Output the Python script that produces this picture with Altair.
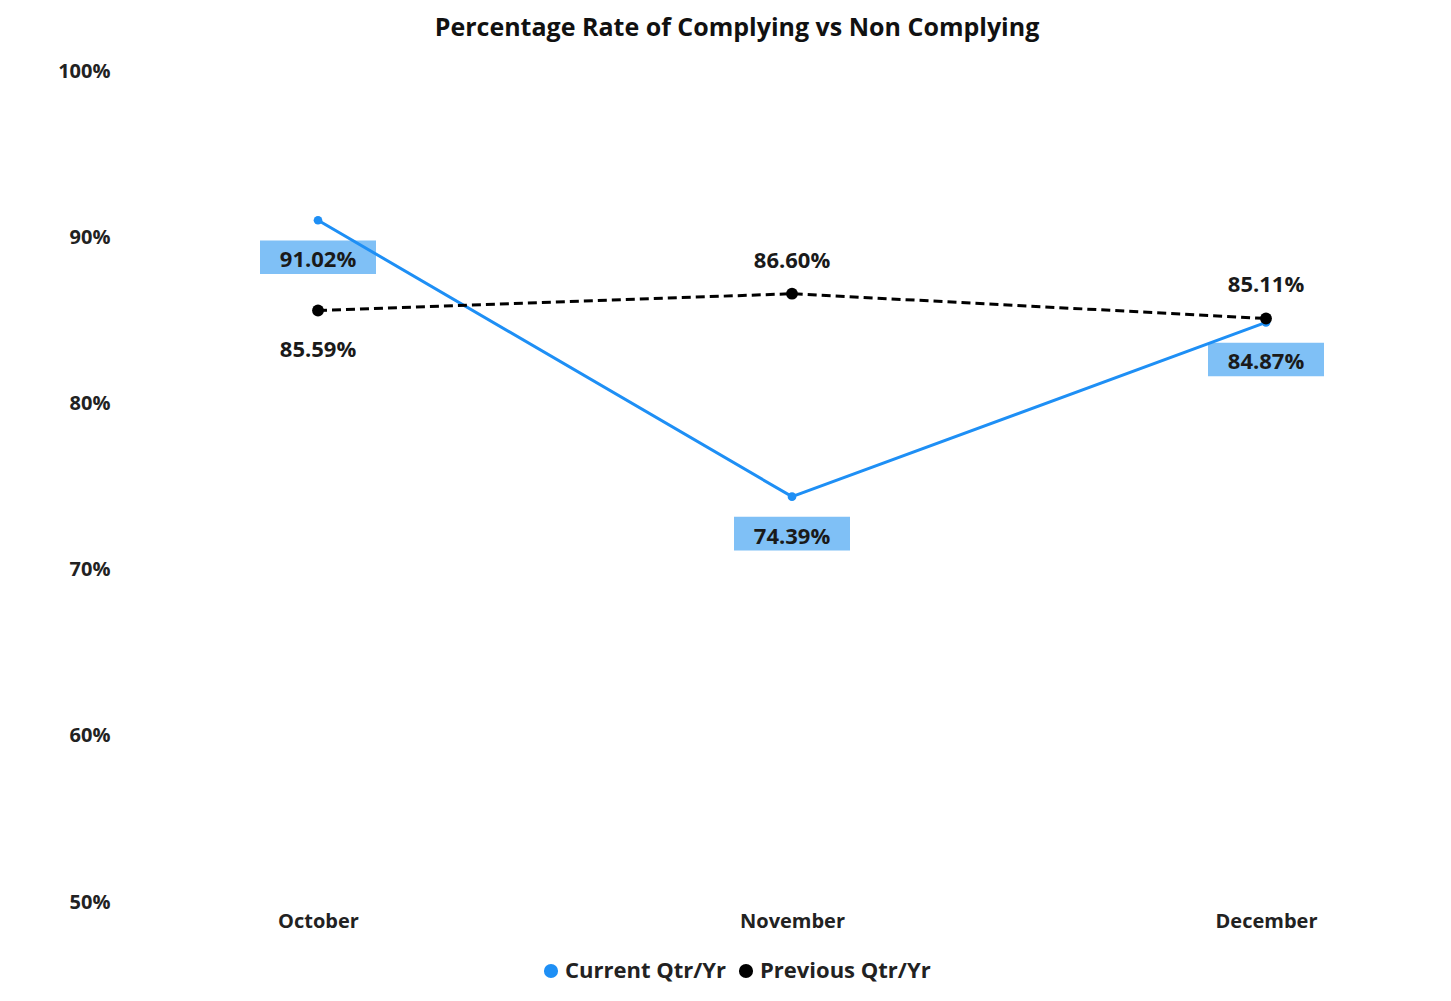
import altair as alt
import pandas as pd

months = ["October", "November", "December"]
current = [91.02, 74.39, 84.87]
previous = [85.59, 86.60, 85.11]
prev_label_pos = ["below", "above", "above"]
series_names = ["Current Qtr/Yr", "Previous Qtr/Yr"]
y_ticks = [50, 60, 70, 80, 90, 100]

FONT = "Open Sans"
BLUE = "#1E8FF5"
BOX = "#7FC0F6"

rows = []
for m, c in zip(months, current):
    rows.append({"month": m, "series": series_names[0], "value": c, "pos": "below"})
for m, p, pos in zip(months, previous, prev_label_pos):
    rows.append({"month": m, "series": series_names[1], "value": p, "pos": pos})
df = pd.DataFrame(rows)

x_enc = alt.X("month:N", sort=months,
              scale=alt.Scale(type="point", padding=0, range=[198, 1146]),
              axis=alt.Axis(title=None, labelAngle=0, domain=False, ticks=False,
                            labelFont=FONT, labelFontWeight="bold", labelFontSize=20,
                            labelColor="#222", labelPadding=9))
y_enc = alt.Y("value:Q", scale=alt.Scale(domain=[50, 100], nice=False, zero=False),
              axis=alt.Axis(title=None, values=y_ticks, grid=False, domain=False, ticks=False,
                            labelExpr="datum.value + '%'", labelFont=FONT,
                            labelFontWeight="bold", labelFontSize=20, labelColor="#222",
                            labelPadding=10))

base = alt.Chart(df).encode(x=x_enc, y=y_enc)
cur = base.transform_filter(alt.datum.series == series_names[0])
prev = base.transform_filter(alt.datum.series == series_names[1])

cur_line = cur.mark_line(color=BLUE, strokeWidth=3)
prev_line = prev.mark_line(color="black", strokeWidth=3, strokeDash=[9, 5])

box_shape = "M-1,-0.29 L1,-0.29 L1,0.29 L-1,0.29 Z"
boxes = cur.mark_point(shape=box_shape, size=116 * 116, filled=True, color=BOX,
                       opacity=1, strokeWidth=0, yOffset=37)

cur_points = cur.mark_point(filled=True, opacity=1, size=75, color=BLUE)
prev_points = prev.mark_point(filled=True, opacity=1, size=140).encode(
    color=alt.Color("series:N", scale=alt.Scale(domain=series_names, range=[BLUE, "black"]),
                    legend=alt.Legend(title=None, orient="none", direction="horizontal",
                                      legendX=420, legendY=889, symbolType="circle",
                                      symbolSize=200, labelFont=FONT, labelFontWeight="bold",
                                      labelFontSize=22, labelColor="#222", columnPadding=8,
                                      labelLimit=400, symbolOffset=0, labelOffset=3,
                                      symbolStrokeWidth=0)),
)

label_props = dict(font=FONT, fontWeight="bold", fontSize=22, color="#1a1a1a",
                   baseline="middle", align="center")
labels_below = base.transform_filter(alt.datum.pos == "below").transform_calculate(
    label="format(datum.value, '.2f') + '%'").mark_text(dy=40, **label_props).encode(
    text="label:N")
labels_above = base.transform_filter(alt.datum.pos == "above").transform_calculate(
    label="format(datum.value, '.2f') + '%'").mark_text(dy=-33, **label_props).encode(
    text="label:N")

chart = alt.layer(boxes, cur_line, prev_line, cur_points, prev_points,
                  labels_below, labels_above).properties(
    width=1320, height=831,
    background="white",
    title=alt.TitleParams("Percentage Rate of Complying vs Non Complying", font=FONT,
                          fontWeight="bold", fontSize=25, color="#111", anchor="middle",
                          dx=-43, offset=20),
    autosize=alt.AutoSizeParams(type="none"),
    padding={"left": 112, "top": 63, "right": 3, "bottom": 91},
).configure_view(stroke=None).configure_legend(symbolSize=200)

chart.save("out.html", embed_options={"renderer": "svg", "actions": False})
